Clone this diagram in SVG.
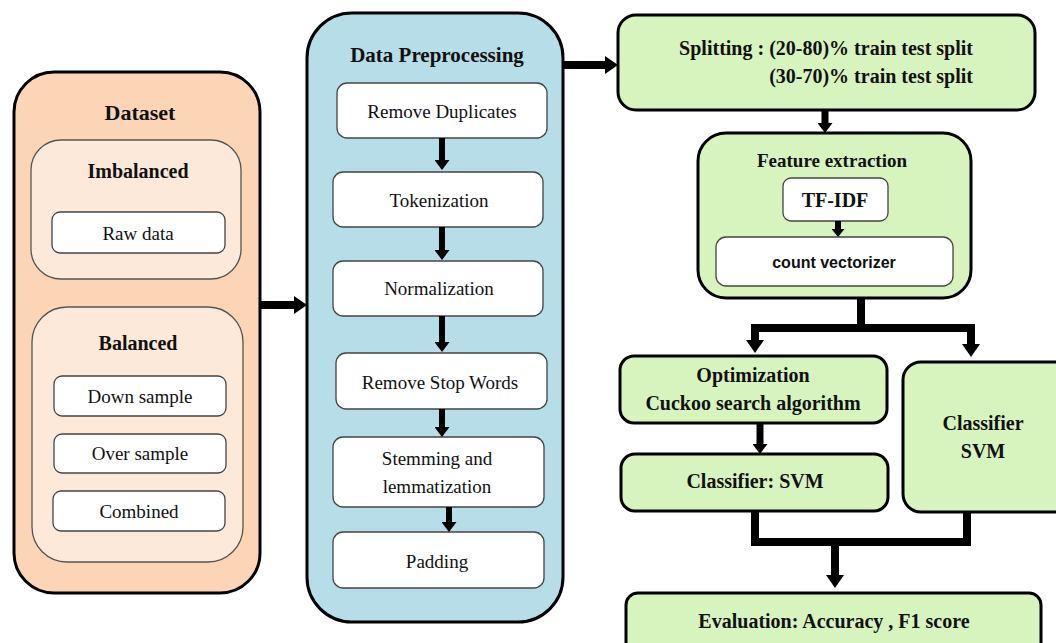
<svg xmlns="http://www.w3.org/2000/svg" width="1056" height="643" viewBox="0 0 1056 643">
<style>
.outer{stroke:#000;stroke-width:3}
.ds{fill:#FBD5B5}
.sub{fill:#FDE9D9;stroke:#555;stroke-width:1.3}
.pp{fill:#B7DDE8}
.gr{fill:#D7F4BF}
.wb{fill:#fff;stroke:#444;stroke-width:1.3}
.t{font-family:"Liberation Serif","Times New Roman",serif;fill:#111;text-anchor:middle}
.b{font-weight:bold;font-size:20px}
.r{font-size:19px}
.sans{font-family:"Liberation Sans",Arial,sans-serif;font-weight:bold;font-size:16px;fill:#111;text-anchor:middle}
.c{fill:none;stroke:#000;stroke-linejoin:miter;stroke-linecap:butt}
</style>
<defs>
<marker id="hb" markerUnits="userSpaceOnUse" markerWidth="13" markerHeight="18" viewBox="0 0 13 18" refX="0" refY="9" orient="auto"><path d="M0,0 L13,9 L0,18 z" fill="#000"/></marker>
<marker id="hs" markerUnits="userSpaceOnUse" markerWidth="10" markerHeight="15" viewBox="0 0 10 15" refX="0" refY="7.5" orient="auto"><path d="M0,0 L10,7.5 L0,15 z" fill="#000"/></marker>
<marker id="ht" markerUnits="userSpaceOnUse" markerWidth="8" markerHeight="13" viewBox="0 0 8 13" refX="0" refY="6.5" orient="auto"><path d="M0,0 L8,6.5 L0,13 z" fill="#000"/></marker>
</defs>

<g id="dataset">
<rect class="outer ds" x="14" y="72" width="246" height="521" rx="40"/>
<text class="t b" x="140" y="120" style="font-size:22px">Dataset</text>
</g>
<g id="imbalanced">
<rect class="sub" x="31" y="140" width="210" height="139" rx="30"/>
<text class="t b" x="138" y="178">Imbalanced</text>
</g>
<g id="rawdata">
<rect class="wb" x="52" y="212" width="173" height="41" rx="8"/>
<text class="t r" x="138" y="240">Raw data</text>
</g>
<g id="balanced">
<rect class="sub" x="32" y="307" width="211" height="255" rx="35"/>
<text class="t b" x="138" y="350">Balanced</text>
</g>
<g id="downsample">
<rect class="wb" x="54" y="376" width="172" height="40" rx="8"/>
<text class="t r" x="140" y="403">Down sample</text>
</g>
<g id="oversample">
<rect class="wb" x="54" y="434" width="172" height="39" rx="8"/>
<text class="t r" x="140" y="460">Over sample</text>
</g>
<g id="combined">
<rect class="wb" x="53" y="491" width="172" height="40" rx="8"/>
<text class="t r" x="139" y="518">Combined</text>
</g>

<g id="preprocessing">
<rect class="outer pp" x="307" y="13" width="256" height="609" rx="45"/>
<text class="t b" x="437" y="62" style="font-size:21px">Data Preprocessing</text>
</g>
<g id="removedup">
<rect class="wb" x="337" y="83" width="210" height="55" rx="10"/>
<text class="t r" x="442" y="118">Remove Duplicates</text>
</g>
<g id="tokenization">
<rect class="wb" x="333" y="172" width="210" height="55" rx="10"/>
<text class="t r" x="439" y="207">Tokenization</text>
</g>
<g id="normalization">
<rect class="wb" x="333" y="261" width="210" height="55" rx="10"/>
<text class="t r" x="439" y="295">Normalization</text>
</g>
<g id="stopwords">
<rect class="wb" x="336" y="353" width="211" height="56" rx="10"/>
<text class="t r" x="440" y="389">Remove Stop Words</text>
</g>
<g id="stemming">
<rect class="wb" x="333" y="437" width="211" height="70" rx="10"/>
<text class="t r" x="437" y="465">Stemming  and</text>
<text class="t r" x="437" y="493">lemmatization</text>
</g>
<g id="padding">
<rect class="wb" x="333" y="532" width="211" height="56" rx="10"/>
<text class="t r" x="437" y="568">Padding</text>
</g>

<g id="splitting">
<rect class="outer gr" x="618" y="15" width="417" height="95" rx="18"/>
<text class="t b" x="973" y="55" style="text-anchor:end">Splitting : (20-80)% train test split</text>
<text class="t b" x="973" y="83" style="text-anchor:end">(30-70)% train test split</text>
</g>
<g id="feature">
<rect class="outer gr" x="698" y="133" width="273" height="165" rx="28"/>
<text class="t b" x="832" y="167" style="font-size:19px">Feature extraction</text>
</g>
<g id="tfidf">
<rect class="wb" x="783" y="178" width="105" height="43" rx="8"/>
<text class="t b" x="835" y="207">TF-IDF</text>
</g>
<g id="countvec">
<rect class="wb" x="716" y="237" width="237" height="49" rx="10"/>
<text class="sans" x="834" y="268">count vectorizer</text>
</g>
<g id="optimization">
<rect class="outer gr" x="620" y="356" width="267" height="67" rx="14"/>
<text class="t b" x="753" y="382">Optimization</text>
<text class="t b" x="753" y="410">Cuckoo search algorithm</text>
</g>
<g id="classifier1">
<rect class="outer gr" x="621" y="454" width="267" height="57" rx="14"/>
<text class="t b" x="755" y="488">Classifier: SVM</text>
</g>
<g id="classifier2">
<rect class="outer gr" x="903" y="362" width="170" height="150" rx="18"/>
<text class="t b" x="983" y="430">Classifier</text>
<text class="t b" x="983" y="458">SVM</text>
</g>
<g id="evaluation">
<rect class="outer gr" x="626" y="593" width="415" height="70" rx="12"/>
<text class="t b" x="834" y="628">Evaluation: Accuracy , F1 score</text>
</g>

<g id="connectors">
<path class="c" d="M260,305 H294" stroke-width="8" marker-end="url(#hb)"/>
<path class="c" d="M563,65 H605" stroke-width="8" marker-end="url(#hb)"/>
<path class="c" d="M442,138 V160" stroke-width="6" marker-end="url(#hs)"/>
<path class="c" d="M442,227 V250" stroke-width="6" marker-end="url(#hs)"/>
<path class="c" d="M442,316 V342" stroke-width="6" marker-end="url(#hs)"/>
<path class="c" d="M442,409 V427" stroke-width="6" marker-end="url(#hs)"/>
<path class="c" d="M449,507 V522" stroke-width="6" marker-end="url(#hs)"/>
<path class="c" d="M825,110 V123" stroke-width="7" marker-end="url(#hs)"/>
<path class="c" d="M838,221 V229" stroke-width="6" marker-end="url(#ht)"/>
<path class="c" d="M861,298 V332" stroke-width="8"/>
<path class="c" d="M865,328 H755 V340" stroke-width="8" marker-end="url(#hb)"/>
<path class="c" d="M857,328 H971 V344" stroke-width="8" marker-end="url(#hb)"/>
<path class="c" d="M760,423 V444" stroke-width="7" marker-end="url(#hs)"/>
<path class="c" d="M755,511 V542 H967 V512" stroke-width="8"/>
<path class="c" d="M835,542 V575" stroke-width="8" marker-end="url(#hb)"/>
</g>
</svg>
